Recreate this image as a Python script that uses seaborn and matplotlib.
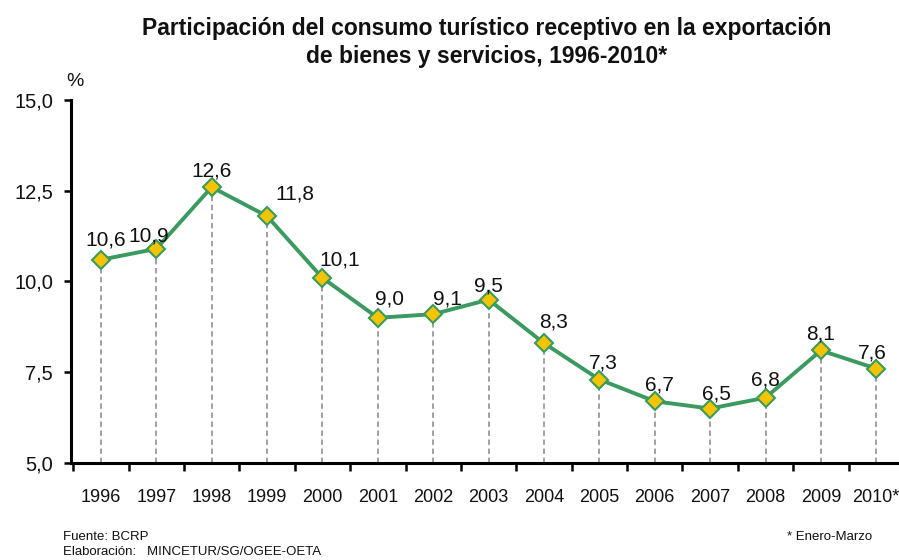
import matplotlib
matplotlib.use("Agg")
import matplotlib.pyplot as plt
import seaborn as sns
import pandas as pd

years = ["1996", "1997", "1998", "1999", "2000", "2001", "2002", "2003",
         "2004", "2005", "2006", "2007", "2008", "2009", "2010*"]
values = [10.6, 10.9, 12.6, 11.8, 10.1, 9.0, 9.1, 9.5, 8.3, 7.3, 6.7, 6.5, 6.8, 8.1, 7.6]
y_ticks = [5.0, 7.5, 10.0, 12.5, 15.0]
y_tick_labels = ["5,0", "7,5", "10,0", "12,5", "15,0"]
label_offsets = [(5, 20), (-8, 13), (0, 16), (28, 22), (17, 18), (12, 19), (14, 15),
                 (0, 14), (10, 21), (4, 17), (5, 16), (6, 15), (0, 18), (0, 16), (-4, 16)]

sns.set_theme(style="white")
plt.rcParams["font.family"] = ["Liberation Sans", "DejaVu Sans"]

df = pd.DataFrame({"x": range(len(years)), "value": values})

fig = plt.figure(figsize=(8.99, 5.60), dpi=100)
W, H = 899, 560
left, right, top, bottom = 71, 904, 100, 463
ax = fig.add_axes([left / W, 1 - bottom / H, (right - left) / W, (bottom - top) / H])

green = "#3a9a60"
ax.vlines(df["x"], 5.0, df["value"], colors="#9a9a9a", linestyles=(0, (3, 2)), linewidth=1.3, zorder=1)
sns.lineplot(data=df, x="x", y="value", ax=ax, color=green, linewidth=2.8,
             marker="D", markersize=9, markerfacecolor="#f4c400",
             markeredgecolor=green, markeredgewidth=1.5, zorder=3)

for i, v in enumerate(values):
    dx, dy = label_offsets[i]
    ax.annotate(f"{v:.1f}".replace(".", ","), (i, v), xytext=(dx, dy),
                textcoords="offset pixels", ha="center", va="center",
                fontsize=15, color="#111111")

ax.set_xlim(-0.54, 14.5)
ax.set_ylim(5.0, 15.0)
ax.set_yticks(y_ticks)
ax.set_yticklabels(y_tick_labels, fontsize=14.5, color="#111111")
ax.set_xticks(range(len(years)))
ax.set_xticklabels(years, fontsize=13, color="#111111")
ax.tick_params(axis="x", length=0, pad=19)
ax.set_xticks([i + 0.5 for i in range(-1, len(years))], minor=True)
ax.tick_params(axis="x", which="minor", length=6, width=1.8, color="black", direction="out", bottom=True)
ax.tick_params(axis="y", length=5, width=1.8, color="black", direction="out", left=True, pad=8)
ax.set_xlabel("")
ax.set_ylabel("")
for s in ["top", "right"]:
    ax.spines[s].set_visible(False)
for s in ["left", "bottom"]:
    ax.spines[s].set_color("black")
    ax.spines[s].set_linewidth(2.2)

fig.text(487 / W, 1 - 28 / H, "Participación del consumo turístico receptivo en la exportación",
         ha="center", va="center", fontsize=16.5, fontweight="bold", color="#111111")
fig.text(487 / W, 1 - 57 / H, "de bienes y servicios, 1996-2010*",
         ha="center", va="center", fontsize=16.5, fontweight="bold", color="#111111")
fig.text(66 / W, 1 - 82 / H, "%", ha="left", va="center", fontsize=14, color="#111111")
fig.text(63 / W, 1 - 537 / H, "Fuente: BCRP", ha="left", va="center", fontsize=9.5, color="#111111")
fig.text(63 / W, 1 - 552 / H, "Elaboración:   MINCETUR/SG/OGEE-OETA", ha="left", va="center",
         fontsize=9.5, color="#111111")
fig.text(872 / W, 1 - 537 / H, "* Enero-Marzo", ha="right", va="center", fontsize=9.5, color="#111111")

fig.savefig("out.png", dpi=100)
